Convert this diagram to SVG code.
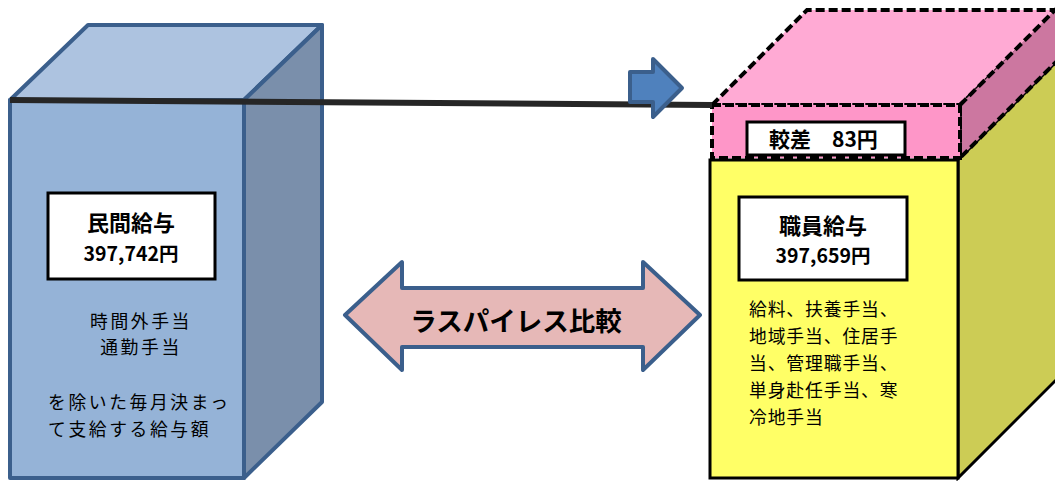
<svg xmlns="http://www.w3.org/2000/svg" width="1055" height="481" viewBox="0 0 1055 481">
<style>
.t{font-family:"Noto Sans CJK JP","Noto Sans",sans-serif;fill:#000}
.b{font-weight:bold}
.body{font-size:17.8px}
.lb{letter-spacing:2.6px}
.rb{letter-spacing:0.9px}
.blue{stroke:#3b5f8c;stroke-width:4;stroke-linejoin:round}
.yel{stroke:#000;stroke-width:3;stroke-linejoin:miter}
.dash{stroke:#000;stroke-width:4;stroke-dasharray:9,4;fill-opacity:1}
.lbl{fill:#fff;stroke:#000;stroke-width:3}
</style>
<rect width="1055" height="481" fill="#fff"/>
<g id="private">
<polygon points="10,100 88,25 322,25 244,100" fill="#adc3e0" class="blue"/>
<polygon points="244,100 322,25 322,402 244,478" fill="#7a8fab" class="blue"/>
<rect x="10" y="100" width="234" height="378" fill="#95b3d7" class="blue"/>
<rect x="48" y="193" width="167" height="86" class="lbl"/>
<text class="t b" x="131" y="231" font-size="22" text-anchor="middle">民間給与</text>
<text class="t b" x="131" y="261" font-size="19.5" text-anchor="middle">397,742円</text>
<text class="t body lb" x="141" y="328" text-anchor="middle">時間外手当</text>
<text class="t body lb" x="141" y="354" text-anchor="middle">通勤手当</text>
<text class="t body lb" x="48" y="409">を除いた毎月決まっ</text>
<text class="t body lb" x="48" y="436">て支給する給与額</text>
</g>
<g id="staff">
<polygon points="958,160 1058,60 1058,378 958,478" fill="#cccc55" class="yel"/>
<rect x="710" y="160" width="248" height="318" fill="#ffff66" class="yel"/>
<rect x="739" y="197" width="168" height="83" class="lbl"/>
<text class="t b" x="823" y="234" font-size="22" text-anchor="middle">職員給与</text>
<text class="t b" x="823" y="263" font-size="19.5" text-anchor="middle">397,659円</text>
<text class="t body rb" x="749" y="316">給料、扶養手当、</text>
<text class="t body rb" x="749" y="343">地域手当、住居手</text>
<text class="t body rb" x="749" y="370">当、管理職手当、</text>
<text class="t body rb" x="749" y="397">単身赴任手当、寒</text>
<text class="t body rb" x="749" y="424">冷地手当</text>
</g>
<g id="diff">
<polygon points="712,105 807,10 1060,10 960,105" fill="#ffaad4" class="dash"/>
<polygon points="960,105 1060,5 1060,58 960,158" fill="#cc77a0" class="dash"/>
<rect x="712" y="105" width="248" height="53" fill="#fe96c8" class="dash"/>
<rect x="747" y="122" width="158" height="33" class="lbl"/>
<text class="t b" x="769" y="147" font-size="21">較差</text>
<text class="t b" x="832" y="147" font-size="21">83円</text>
</g>
<g id="connectors">
<line x1="10" y1="100" x2="712" y2="105" stroke="#262626" stroke-width="6"/>
<polygon points="630,72 653,72 653,59 682,88 653,117 653,102 630,102" fill="#4f81bd" class="blue" stroke-width="3"/>
</g>
<g id="compare">
<polygon points="345,315 402,262 402,288 643,288 643,262 700,315 643,370 643,347 402,347 402,370" fill="#e6b8b7" class="blue"/>
<text class="t b" x="516" y="331" font-size="26.5" text-anchor="middle">ラスパイレス比較</text>
</g>
</svg>
